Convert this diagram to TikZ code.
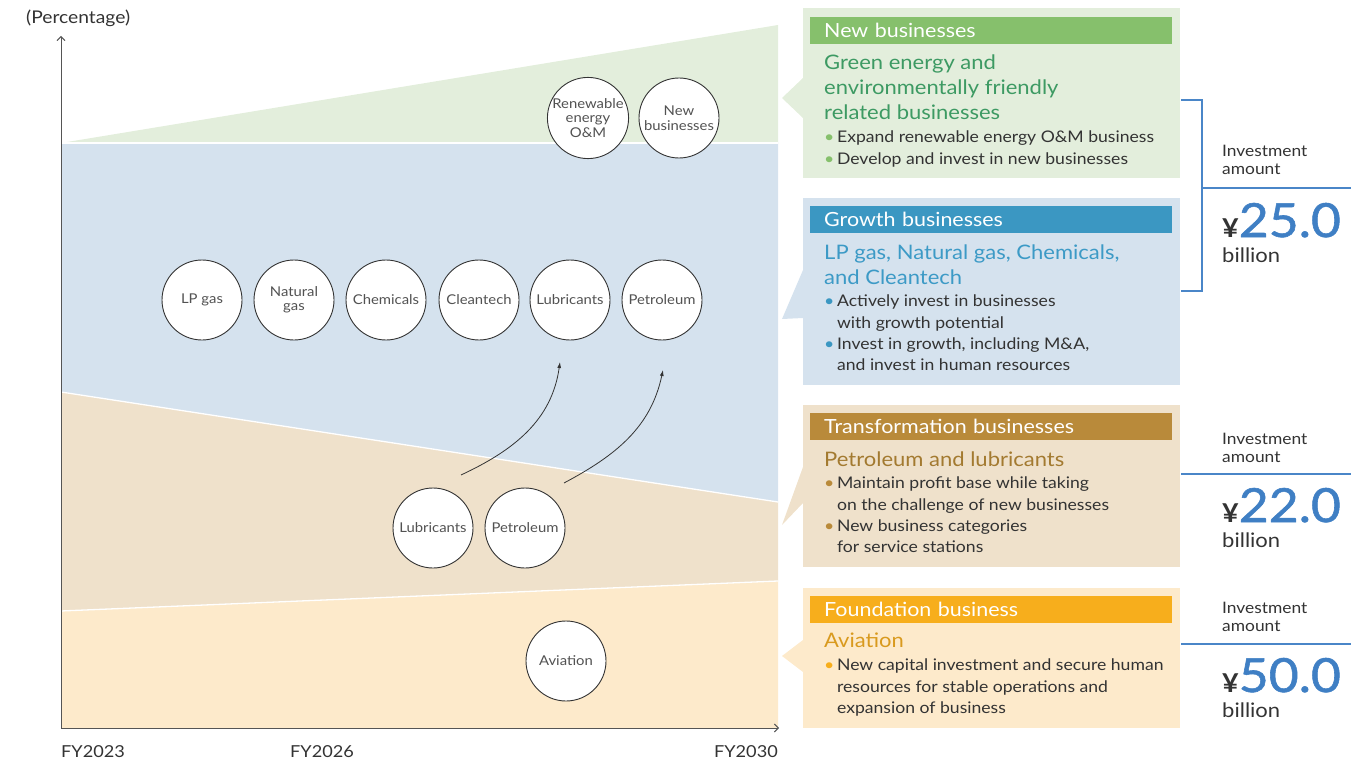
\documentclass[tikz,border=0pt]{standalone}
\usepackage{fontspec}
\setmainfont{Lato}[FakeStretch=1.1]
\usetikzlibrary{arrows.meta}

% palette
\definecolor{gFill}{HTML}{E3EEDC}
\definecolor{gHead}{HTML}{86C06C}
\definecolor{gSub}{HTML}{3D9A63}
\definecolor{bFill}{HTML}{D5E2EE}
\definecolor{bHead}{HTML}{3B97C2}
\definecolor{bSub}{HTML}{3C9AC6}
\definecolor{tFill}{HTML}{EFE1CB}
\definecolor{tHead}{HTML}{B98A3A}
\definecolor{tSub}{HTML}{A37A30}
\definecolor{oFill}{HTML}{FDEACB}
\definecolor{oHead}{HTML}{F7AE1C}
\definecolor{oSub}{HTML}{D99A1E}
\definecolor{bodytext}{HTML}{333333}
\definecolor{axisgray}{HTML}{555555}
\definecolor{invblue}{HTML}{3F7FC4}
\definecolor{rule}{HTML}{4A86C8}

\newcommand\bul[1]{{\color{#1}\textbullet}\,}

\tikzset{
  bubble/.style={circle, draw=bodytext, fill=white, line width=0.9pt,
    minimum size=80pt, inner sep=0pt, align=center, text=bodytext!85,
    font=\fontsize{13.5}{14.5}\selectfont},
  panel/.style={inner sep=0pt, minimum width=377pt},
  hdr/.style={anchor=north west, inner xsep=14pt, inner ysep=0pt,
    minimum height=27pt, text width=334pt, align=left, text=white,
    font=\fontsize{19.5}{22}\selectfont},
  sub/.style={anchor=north west, inner sep=0pt, align=left,
    font=\fontsize{20}{25}\selectfont},
  bullets/.style={anchor=north west, inner sep=0pt, align=left,
    text=bodytext, font=\fontsize{16}{21.3}\selectfont},
  invlab/.style={anchor=north west, inner sep=0pt, align=left,
    text=bodytext, font=\fontsize{15.8}{17.5}\selectfont},
  invnum/.style={anchor=base west, inner sep=0pt, text=bodytext},
  billion/.style={anchor=base west, inner sep=0pt, text=bodytext,
    font=\fontsize{20}{20}\selectfont},
  axis/.style={draw=axisgray, line width=0.9pt,
    -{Straight Barb[length=4pt,width=8pt]}},
  axlab/.style={inner sep=0pt, text=bodytext, font=\fontsize{16.5}{16.5}\selectfont},
  flow/.style={draw=bodytext, line width=0.8pt, -{Latex[length=6pt,width=4pt]}},
  bracket/.style={draw=rule, line width=1.3pt},
  sep/.style={draw=white, line width=1.3pt}
}

\newcommand\amount[1]{{\fontsize{26}{26}\selectfont\bfseries ¥}{\fontsize{47}{47}\selectfont\addfontfeature{FakeBold=1.2}\color{invblue}#1}}

\begin{document}
\begin{tikzpicture}[x=1pt,y=-1pt]
\useasboundingbox (0,0) rectangle (1369,765);

% ---- stacked share bands ----
\fill[gFill] (61,143) -- (778,25) -- (778,143) -- cycle;
\fill[bFill] (61,143) -- (778,143) -- (778,502) -- (61,392) -- cycle;
\fill[tFill] (61,392) -- (778,502) -- (778,581) -- (61,611) -- cycle;
\fill[oFill] (61,611) -- (778,581) -- (778,728) -- (61,728) -- cycle;
\draw[sep] (61,143) -- (778,143);
\draw[sep] (61,392) -- (778,502);
\draw[sep] (61,611) -- (778,581);

% ---- axes ----
\coordinate (origin) at (61,728);
\coordinate (ytop) at (61,36);
\coordinate (xend) at (779,728);
\draw[axis] (origin) -- (ytop);
\draw[axis] (origin) -- (xend);
\node[axlab, anchor=west, font=\fontsize{17.5}{17.5}\selectfont] (ylab) at (26,18) {(Percentage)};
\node[axlab, anchor=west] (fy23) at (61,752) {FY2023};
\node[axlab, anchor=west] (fy26) at (290,752) {FY2026};
\node[axlab, anchor=east] (fy30) at (778,752) {FY2030};

% ---- business bubbles ----
\node[bubble] (renew) at (588,118) {Renewable\\energy\\O\&M};
\node[bubble] (newb) at (679,118) {New\\businesses};

\node[bubble] (lpg) at (202,300) {LP gas};
\node[bubble] (natgas) at (294,300) {Natural\\gas};
\node[bubble] (chem) at (386,300) {Chemicals};
\node[bubble] (clean) at (479,300) {Cleantech};
\node[bubble] (lubeup) at (570,300) {Lubricants};
\node[bubble] (petup) at (662,300) {Petroleum};

\node[bubble] (lubelo) at (433,528) {Lubricants};
\node[bubble] (petlo) at (525,528) {Petroleum};

\node[bubble] (avia) at (566,661) {Aviation};

% ---- shift arrows ----
\coordinate (lubeFrom) at (461,475);
\coordinate (lubeTo) at (560,362);
\coordinate (petFrom) at (564,483);
\coordinate (petTo) at (663,370);
\draw[flow] (lubeFrom) to[out=25,in=-98] (lubeTo);
\draw[flow] (petFrom) to[out=28,in=-102] (petTo);

% ---- callout panels ----
% New businesses
\fill[gFill] (803,78) -- (782,98) -- (803,118) -- cycle;
\node[panel, fill=gFill, minimum height=170pt] (gP) at (991.5,93) {};
\node[hdr, fill=gHead] (gH) at (810,17) {New businesses};
\node[sub, text=gSub] (gS) at (824,55)
  {Green energy and\\environmentally friendly\\related businesses};
\node[bullets] (gB) at (824,131)
  {\bul{gHead}Expand renewable energy O\&M business\\
   \bul{gHead}Develop and invest in new businesses};

% Growth businesses
\fill[bFill] (803,270) -- (782,319) -- (803,318) -- cycle;
\node[panel, fill=bFill, minimum height=187pt] (bP) at (991.5,291.5) {};
\node[hdr, fill=bHead] (bH) at (810,206) {Growth businesses};
\node[sub, text=bSub] (bS) at (824,245)
  {LP gas, Natural gas, Chemicals,\\and Cleantech};
\node[bullets] (bB) at (824,295)
  {\bul{bHead}Actively invest in businesses\\
   \hphantom{\bul{bHead}}with growth potential\\
   \bul{bHead}Invest in growth, including M\&A,\\
   \hphantom{\bul{bHead}}and invest in human resources};

% Transformation businesses
\fill[tFill] (803,467) -- (782,525) -- (803,503) -- cycle;
\node[panel, fill=tFill, minimum height=162pt] (tP) at (991.5,486) {};
\node[hdr, fill=tHead] (tH) at (810,413) {Transformation businesses};
\node[sub, text=tSub] (tS) at (824,452) {Petroleum and lubricants};
\node[bullets] (tB) at (824,477)
  {\bul{tHead}Maintain profit base while taking\\
   \hphantom{\bul{tHead}}on the challenge of new businesses\\
   \bul{tHead}New business categories\\
   \hphantom{\bul{tHead}}for service stations};

% Foundation business
\fill[oFill] (803,640) -- (782,656) -- (803,672) -- cycle;
\node[panel, fill=oFill, minimum height=140pt] (oP) at (991.5,658) {};
\node[hdr, fill=oHead] (oH) at (810,596) {Foundation business};
\node[sub, text=oSub] (oS) at (824,633) {Aviation};
\node[bullets] (oB) at (824,659)
  {\bul{oHead}New capital investment and secure human\\
   \hphantom{\bul{oHead}}resources for stable operations and\\
   \hphantom{\bul{oHead}}expansion of business};

% ---- investment amounts ----
\coordinate (brTop) at (1181,100);
\coordinate (brBot) at (1181,291);
\draw[bracket] (brTop) -- (1202,100) -- (1202,291) -- (brBot);
\draw[bracket] (1202,188) -- (1351,188);
\node[invlab] (gInv) at (1222,145) {Investment\\amount};
\node[invnum] (gAmt) at (1222,237) {\amount{25.0}};
\node[billion] (gBil) at (1222,262) {billion};

\draw[bracket] (1181,474) -- (1351,474);
\node[invlab] (tInv) at (1222,433) {Investment\\amount};
\node[invnum] (tAmt) at (1222,522) {\amount{22.0}};
\node[billion] (tBil) at (1222,547) {billion};

\draw[bracket] (1181,644) -- (1351,644);
\node[invlab] (oInv) at (1222,602) {Investment\\amount};
\node[invnum] (oAmt) at (1222,692) {\amount{50.0}};
\node[billion] (oBil) at (1222,717) {billion};

\end{tikzpicture}
\end{document}
